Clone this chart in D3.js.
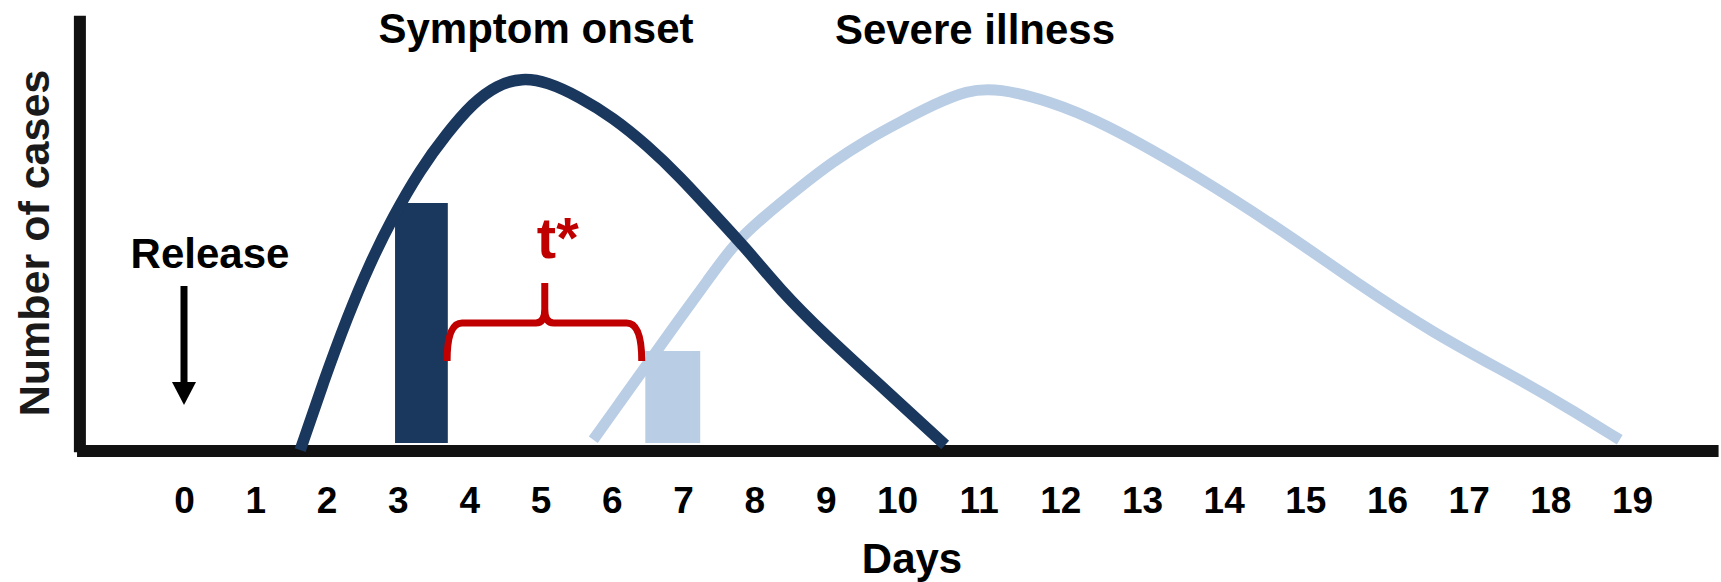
<!DOCTYPE html>
<html>
<head>
<meta charset="utf-8">
<script src="https://cdn.jsdelivr.net/npm/d3@7"></script>
<style>
  body { margin: 0; background: #fff; }
  text { font-family: "Liberation Sans", Arial, sans-serif; font-weight: bold; }
</style>
</head>
<body>
<div id="chart"></div>
<script>
// day labels on the axis
const days = d3.range(0, 20);

// symptom onset curve (day, relative number of cases)
const onsetDays  = [1.63, 1.95, 2.29, 2.61, 2.93, 3.31, 3.69, 4.05, 4.39, 4.74, 5.09, 5.55, 6.02, 6.49, 6.96, 7.42, 7.90, 8.36, 8.96, 9.76, 10.59];
const onsetCases = [-1.3, 15.5, 32, 45.5, 57, 68.8, 78, 85.5, 90, 91.8, 90.8, 87, 81.8, 75, 67, 58, 48.8, 38.8, 28, 15, 0];

// severe illness curve
const severeDays  = [5.74, 6.12, 6.49, 6.96, 7.34, 7.70, 8.08, 8.64, 9.10, 9.58, 10.04, 10.44, 10.85, 11.25, 11.86, 12.49, 13.71, 14.94, 15.57, 16.56, 17.63, 18.20, 18.85];
const severeCases = [1.3, 10.8, 20, 31.8, 41, 50, 56.3, 64.5, 70.8, 76.3, 80.8, 85, 88.7, 89.2, 86, 81, 67, 50.5, 41.3, 28, 16.3, 9.5, 1.3];

// the two bars: [start day, end day, height]
const onsetBar  = [2.96, 3.70, 60.5];
const severeBar = [6.47, 7.24, 23.5];

// t* bracket between the bars
const braceDays  = [3.69, 5.06, 6.42];   // left, middle, right
const braceCases = [21, 30.5, 40.5];     // ends, bar, tip

// release arrow at day 0
const arrowCases = [39.75, 15.75, 10];   // top of shaft, head base, tip

const dark = "#1a375e";
const light = "#b9cde5";
const red = "#c00000";

const W = 1721, H = 582;

const svg = d3.select("#chart").append("svg")
    .attr("width", W)
    .attr("height", H);

// the day axis is not evenly spaced in the picture
const x = d3.scaleLinear().domain([0, 10, 19]).range([184, 897, 1632]);
const y = d3.scaleLinear().domain([0, 100]).range([445, 45]);

// bars
svg.selectAll("rect.bar")
    .data([[onsetBar, dark], [severeBar, light]])
    .join("rect")
    .attr("class", "bar")
    .attr("x", d => x(d[0][0]))
    .attr("width", d => x(d[0][1]) - x(d[0][0]))
    .attr("y", d => y(d[0][2]))
    .attr("height", d => y(0) - y(d[0][2]) - 2)
    .attr("fill", d => d[1]);

// axes lines
svg.append("line")
    .attr("x1", x(-1.46)).attr("x2", x(-1.46))
    .attr("y1", y(107.3)).attr("y2", y(-1.8))
    .attr("stroke", "#111").attr("stroke-width", 12);

svg.append("line")
    .attr("x1", x(-1.5)).attr("x2", x(20.06))
    .attr("y1", y(-1.5)).attr("y2", y(-1.5))
    .attr("stroke", "#111").attr("stroke-width", 12);

// curves (basis spline smooths the hand-drawn shape)
const line = d3.line()
    .x(d => x(d[0]))
    .y(d => y(d[1]))
    .curve(d3.curveBasis);

svg.append("path")
    .datum(d3.zip(severeDays, severeCases))
    .attr("fill", "none")
    .attr("stroke", light)
    .attr("stroke-width", 11)
    .attr("d", line);

svg.append("path")
    .datum(d3.zip(onsetDays, onsetCases))
    .attr("fill", "none")
    .attr("stroke", dark)
    .attr("stroke-width", 11.5)
    .attr("d", line);

// bracket
const bl = x(braceDays[0]), bm = x(braceDays[1]), br = x(braceDays[2]);
const yb = y(braceCases[0]), yh = y(braceCases[1]), yt = y(braceCases[2]);
const brace = d3.path();
brace.moveTo(bl, yb);
brace.quadraticCurveTo(bl, yh, bl + 15, yh);
brace.lineTo(bm - 9, yh);
brace.quadraticCurveTo(bm, yh, bm, yh - 14);
brace.lineTo(bm, yt);
brace.moveTo(bm, yh - 14);
brace.quadraticCurveTo(bm, yh, bm + 9, yh);
brace.lineTo(br - 15, yh);
brace.quadraticCurveTo(br, yh, br, yb);

svg.append("path")
    .attr("d", brace.toString())
    .attr("fill", "none")
    .attr("stroke", red)
    .attr("stroke-width", 7)
    .attr("stroke-linejoin", "round");

svg.append("text")
    .attr("x", bm + 13)
    .attr("y", 258)
    .attr("text-anchor", "middle")
    .attr("fill", red)
    .style("font-size", "58px")
    .text("t*");

// release arrow
svg.append("line")
    .attr("x1", x(0)).attr("x2", x(0))
    .attr("y1", y(arrowCases[0])).attr("y2", y(arrowCases[1]) + 1)
    .attr("stroke", "#000").attr("stroke-width", 7);

svg.append("path")
    .attr("d", `M${x(0) - 12},${y(arrowCases[1])} L${x(0) + 12},${y(arrowCases[1])} L${x(0)},${y(arrowCases[2])} Z`)
    .attr("fill", "#000");

svg.append("text")
    .attr("x", 210).attr("y", 268)
    .attr("text-anchor", "middle")
    .style("font-size", "42px")
    .text("Release");

// curve titles
svg.append("text")
    .attr("x", 536).attr("y", 43)
    .attr("text-anchor", "middle")
    .style("font-size", "42px")
    .text("Symptom onset");

svg.append("text")
    .attr("x", 975).attr("y", 44)
    .attr("text-anchor", "middle")
    .style("font-size", "42px")
    .text("Severe illness");

// day tick labels
const xAxis = svg.append("g")
    .attr("transform", `translate(0, ${y(-1.5)})`)
    .call(d3.axisBottom(x).tickValues(days).tickSize(0).tickPadding(36).tickFormat(d3.format("d")));

xAxis.select(".domain").remove();
xAxis.selectAll("text")
    .attr("fill", "#000")
    .style("font-size", "37px")
    .style("font-family", "'Liberation Sans', Arial, sans-serif")
    .style("font-weight", "bold");

// axis titles
svg.append("text")
    .attr("x", 912).attr("y", 573)
    .attr("text-anchor", "middle")
    .style("font-size", "42px")
    .text("Days");

svg.append("text")
    .attr("transform", "translate(49, 243) rotate(-90)")
    .attr("text-anchor", "middle")
    .attr("fill", "#1a1a1a")
    .style("font-size", "43px")
    .text("Number of cases");
</script>
</body>
</html>
